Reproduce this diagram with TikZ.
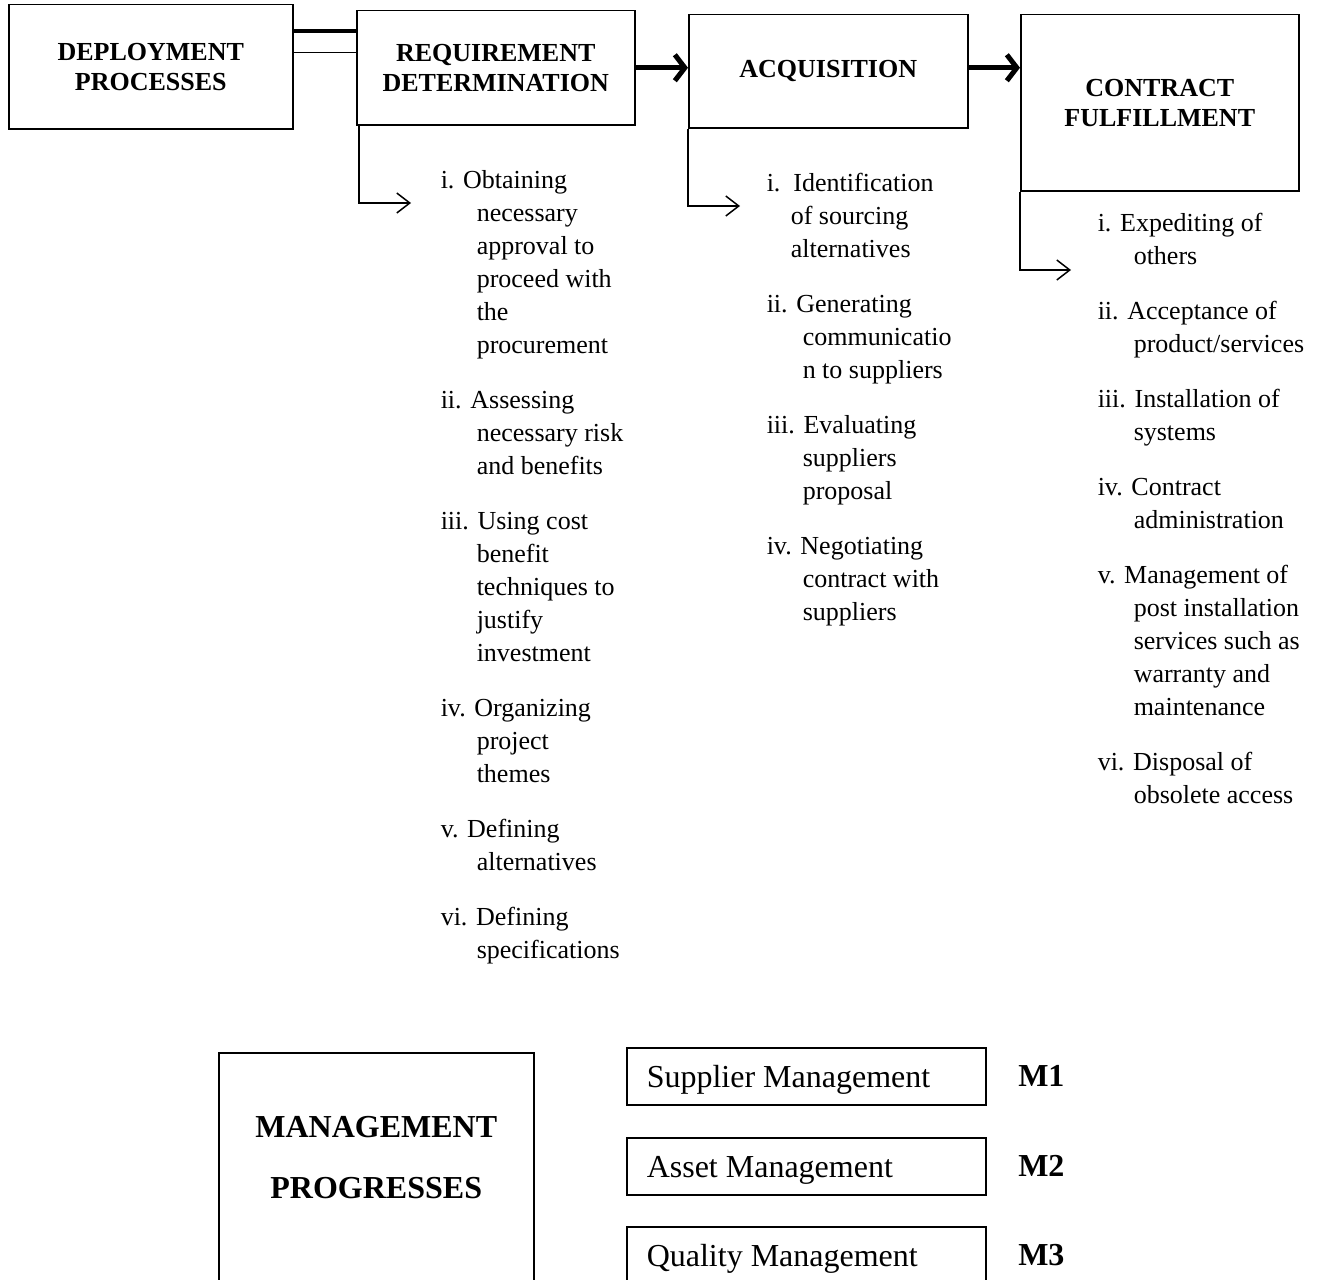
\documentclass[tikz,border=0pt]{standalone}
\usepackage{fontspec}
\setmainfont{Liberation Serif}
\usetikzlibrary{arrows.meta,positioning,calc}
\tikzset{
    >={Straight Barb[length=6.5pt,width=10pt]},
    every picture/.style={line width=0.75pt},
    procbox/.style={draw,anchor=north west,inner sep=0pt,align=flush center,font=\fontsize{13}{15}\selectfont\bfseries},
    listtext/.style={anchor=north west,inner sep=0pt,align=flush left,font=\fontsize{13}{16.5}\selectfont},
    flow/.style={line width=2.5pt,-{Straight Barb[length=5pt,width=13pt]}},
    mgmtbox/.style={draw,anchor=north west,minimum width=157.5pt,minimum height=150pt},
    mgmttitle/.style={inner sep=0pt,align=flush center,font=\fontsize{16}{30.5}\selectfont\bfseries},
    subbox/.style={draw,anchor=north west,text width=159.5pt,text height=14.5pt,text depth=3.5pt,inner xsep=10pt,inner ysep=0pt,minimum height=28.5pt,align=flush left,font=\fontsize{16}{19}\selectfont},
    mlabel/.style={inner sep=0pt,font=\fontsize{16}{19}\selectfont\bfseries}
}
\newcommand{\ind}{\hspace*{18pt}}

\begin{document}
\begin{tikzpicture}[x=0.5pt,y=-0.5pt]
    \useasboundingbox (0,0) rectangle (1321,1279);

    % Deployment processes
    \node[procbox,minimum width=142pt,minimum height=62pt] (deploy) at (8,4) {DEPLOYMENT\\PROCESSES};
    \node[procbox,minimum width=139pt,minimum height=57pt] (req) at (356,10) {REQUIREMENT\\DETERMINATION};
    \node[procbox,minimum width=139.5pt,minimum height=56.5pt] (acq) at (688,14) {ACQUISITION};
    \node[procbox,minimum width=139pt,minimum height=88pt] (con) at (1020,14) {CONTRACT\\FULFILLMENT};

    \draw[line width=2pt] ([yshift=18pt]deploy.east) -- ([yshift=18pt]deploy.east -| req.west);
    \draw ([yshift=7pt]deploy.east) -- ([yshift=7pt]deploy.east -| req.west);
    \draw[flow] (req.east) -- (req.east -| acq.west);
    \draw[flow] ([yshift=1.75pt]acq.east) -- ([yshift=1.75pt]acq.east -| con.west);

    \coordinate (reqtip) at (411,203);
    \coordinate (acqtip) at (740,206);
    \coordinate (contip) at (1071,270);
    \draw[->] ([xshift=1.5pt]req.south west) |- (reqtip);
    \draw[->] (acq.south west) |- (acqtip);
    \draw[->] (con.south west) |- (contip);

    \node[listtext] (reqlist) at (440,170) {i. Obtaining\\
        \ind necessary\\
        \ind approval to\\
        \ind proceed with\\
        \ind the\\
        \ind procurement\\[11pt]
        ii. Assessing\\
        \ind necessary risk\\
        \ind and benefits\\[11pt]
        iii. Using cost\\
        \ind benefit\\
        \ind techniques to\\
        \ind justify\\
        \ind investment\\[11pt]
        iv. Organizing\\
        \ind project\\
        \ind themes\\[11pt]
        v. Defining\\
        \ind alternatives\\[11pt]
        vi. Defining\\
        \ind specifications};

    \node[listtext] (acqlist) at (766,172) {i.\ \ Identification\\
        \hspace*{12pt}of sourcing\\
        \hspace*{12pt}alternatives\\[11pt]
        ii. Generating\\
        \ind communicatio\\
        \ind n to suppliers\\[11pt]
        iii. Evaluating\\
        \ind suppliers\\
        \ind proposal\\[11pt]
        iv. Negotiating\\
        \ind contract with\\
        \ind suppliers};

    \node[listtext] (conlist) at (1097,212) {i. Expediting of\\
        \ind others\\[11pt]
        ii. Acceptance of\\
        \ind product/services\\[11pt]
        iii. Installation of\\
        \ind systems\\[11pt]
        iv. Contract\\
        \ind administration\\[11pt]
        v. Management of\\
        \ind post installation\\
        \ind services such as\\
        \ind warranty and\\
        \ind maintenance\\[11pt]
        vi. Disposal of\\
        \ind obsolete access};

    % Management progresses
    \node[mgmtbox] (mgmt) at (218,1052) {};
    \node[mgmttitle] (mgtitle) at ($(mgmt.north)+(0,106)$) {MANAGEMENT\\PROGRESSES};

    \node[subbox] (supm) at (626,1047) {Supplier Management};
    \node[subbox] (assm) at (626,1137) {Asset Management};
    \node[subbox] (qualm) at (626,1226) {Quality Management};
    \node[mlabel,right=15.5pt of supm] (m1) {M1};
    \node[mlabel,right=15.5pt of assm] (m2) {M2};
    \node[mlabel,right=15.5pt of qualm] (m3) {M3};
\end{tikzpicture}
\end{document}
